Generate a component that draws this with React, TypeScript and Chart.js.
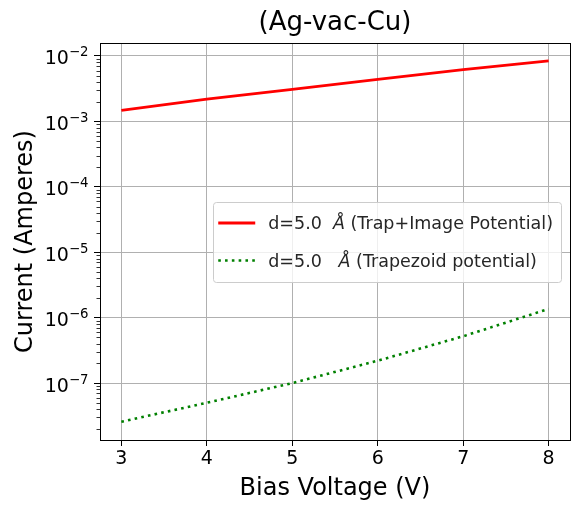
import React, { useEffect, useRef } from 'react';
import { Chart, registerables } from 'chart.js';

Chart.register(...registerables);

const FONT = 'DejaVu Sans';
const TITLE = '(Ag-vac-Cu)';
const X_LABEL = 'Bias Voltage (V)';
const Y_LABEL = 'Current (Amperes)';

const biasVoltage = [3, 4, 5, 6, 7, 8];
const trapImageCurrent = [1.47e-3, 2.2e-3, 3.1e-3, 4.4e-3, 6.2e-3, 8.4e-3];
const trapezoidCurrent = [2.57e-8, 5.0e-8, 1.0e-7, 2.2e-7, 5.2e-7, 1.36e-6];
const seriesLabels = ['d=5.0  Å (Trap+Image Potential)', 'd=5.0   Å (Trapezoid potential)'];

const xTicks = [3, 4, 5, 6, 7, 8];
const yDecadeExponents = [-8, -7, -6, -5, -4, -3, -2];
const X_MIN = 2.75;
const X_MAX = 8.25;
const Y_MIN = 1.35e-8;
const Y_MAX = 1.58e-2;

const isMajor = (v: number) => {
  const l = Math.log10(v);
  return Math.abs(l - Math.round(l)) < 1e-6;
};

const yTickValues: number[] = [];
yDecadeExponents.forEach((e) => {
  for (let m = 1; m <= 9; m++) {
    const v = m * Math.pow(10, e);
    if (v >= Y_MIN && v <= Y_MAX) yTickValues.push(v);
  }
});

const supDigits = (n: number) => (n < 0 ? '\u2212' + Math.abs(n) : String(n));

const TICK_FS = 19;
const EXP_FS = 13.3;

const framePlugin = {
  id: 'mplFrame',
  afterDatasetsDraw(chart: any) {
    const { ctx, chartArea } = chart;
    const y = chart.scales.y;
    ctx.save();
    // minor ticks on log axis
    ctx.strokeStyle = '#000';
    ctx.lineWidth = 0.8;
    y.ticks.forEach((t: any) => {
      if (isMajor(t.value)) return;
      const py = Math.round(y.getPixelForValue(t.value)) + 0.5;
      ctx.beginPath();
      ctx.moveTo(chartArea.left - 3.5, py);
      ctx.lineTo(chartArea.left, py);
      ctx.stroke();
    });
    // spines
    ctx.lineWidth = 1;
    ctx.strokeRect(
      Math.round(chartArea.left) + 0.5,
      Math.round(chartArea.top) + 0.5,
      Math.round(chartArea.right - chartArea.left),
      Math.round(chartArea.bottom - chartArea.top)
    );
    // y tick labels with superscript exponents
    ctx.fillStyle = '#000';
    ctx.textBaseline = 'alphabetic';
    ctx.textAlign = 'left';
    const right = chartArea.left - 6 - 5.5;
    y.ticks.forEach((t: any) => {
      if (!isMajor(t.value)) return;
      const e = Math.round(Math.log10(t.value));
      const py = y.getPixelForValue(t.value);
      const expStr = supDigits(e);
      ctx.font = `${EXP_FS}px "${FONT}"`;
      const expW = ctx.measureText(expStr).width;
      ctx.font = `${TICK_FS}px "${FONT}"`;
      const baseW = ctx.measureText('10').width;
      ctx.fillText('10', right - expW - baseW, py + 8.5);
      ctx.font = `${EXP_FS}px "${FONT}"`;
      ctx.fillText(expStr, right - expW, py + 0.5);
    });
    ctx.restore();
  },
};

const legendPlugin = {
  id: 'mplLegend',
  afterDraw(chart: any) {
    const { ctx, chartArea } = chart;
    const fs = 17.5;
    const handle = 37;
    const padL = 5;
    const gap = 13;
    const padR = 8;
    const rowGap = 37.5;
    const boxH = 80;
    ctx.save();
    const parts = chart.data.datasets.map((ds: any) => {
      const [a, b] = String(ds.label).split('Å');
      ctx.font = `${fs}px "${FONT}"`;
      const wa = ctx.measureText(a).width;
      const wb = ctx.measureText(b).width;
      ctx.font = `italic ${fs}px "${FONT}"`;
      const wc = ctx.measureText('Å').width;
      return { a, b, wa, wb, wc, total: wa + wb + wc, ds };
    });
    const maxW = Math.max(...parts.map((p: any) => p.total));
    const boxW = padL + handle + gap + maxW + padR;
    const right = chartArea.right - 9;
    const left = right - boxW;
    const top = (chartArea.top + chartArea.bottom) / 2 - boxH / 2;
    ctx.beginPath();
    ctx.roundRect(Math.round(left) + 0.5, Math.round(top) + 0.5, Math.round(boxW), boxH, 3);
    ctx.fillStyle = 'rgba(255,255,255,0.8)';
    ctx.fill();
    ctx.strokeStyle = '#cccccc';
    ctx.lineWidth = 1;
    ctx.stroke();
    parts.forEach((p: any, i: number) => {
      const cy = top + 21.5 + i * rowGap;
      ctx.save();
      ctx.strokeStyle = p.ds.borderColor;
      ctx.lineWidth = p.ds.borderWidth;
      ctx.setLineDash(p.ds.borderDash || []);
      ctx.beginPath();
      ctx.moveTo(left + padL, cy);
      ctx.lineTo(left + padL + handle, cy);
      ctx.stroke();
      ctx.restore();
      const tx = left + padL + handle + gap;
      const by = cy + 6.3;
      ctx.fillStyle = '#262626';
      ctx.textBaseline = 'alphabetic';
      ctx.textAlign = 'left';
      ctx.font = `${fs}px "${FONT}"`;
      ctx.fillText(p.a, tx, by);
      ctx.font = `italic ${fs}px "${FONT}"`;
      ctx.fillText('Å', tx + p.wa, by);
      ctx.font = `${fs}px "${FONT}"`;
      ctx.fillText(p.b, tx + p.wa + p.wc, by);
    });
    ctx.restore();
  },
};

export default function App() {
  const canvasRef = useRef<HTMLCanvasElement | null>(null);

  useEffect(() => {
    if (!canvasRef.current) return;
    const chart = new Chart(canvasRef.current, {
      type: 'line',
      data: {
        datasets: [
          {
            label: seriesLabels[0],
            data: biasVoltage.map((x, i) => ({ x, y: trapImageCurrent[i] })),
            borderColor: '#ff0000',
            borderWidth: 2.8,
            pointRadius: 0,
            fill: false,
            tension: 0,
          },
          {
            label: seriesLabels[1],
            data: biasVoltage.map((x, i) => ({ x, y: trapezoidCurrent[i] })),
            borderColor: '#008000',
            borderWidth: 2.6,
            borderDash: [2.6, 4.2],
            pointRadius: 0,
            fill: false,
            tension: 0,
          },
        ],
      },
      options: {
        responsive: false,
        animation: false,
        devicePixelRatio: 1,
        layout: { padding: { left: 0, right: 2, top: 0, bottom: 0 } },
        plugins: {
          legend: { display: false },
          tooltip: { enabled: false },
          title: {
            display: true,
            text: TITLE,
            fullSize: false,
            color: '#000',
            font: { family: FONT, size: 26, weight: 'normal', lineHeight: 1.2 },
            padding: { top: 8, bottom: 3.8 },
          },
        },
        scales: {
          x: {
            type: 'linear',
            min: X_MIN,
            max: X_MAX,
            afterBuildTicks: (s: any) => {
              s.ticks = xTicks.map((v) => ({ value: v }));
            },
            afterFit: (s: any) => {
              s.height = 66;
            },
            grid: { color: '#b0b0b0', tickColor: '#000', tickLength: 6, lineWidth: 1 },
            border: { display: true, color: '#000', width: 1 },
            ticks: {
              color: '#000',
              font: { family: FONT, size: TICK_FS },
              padding: 2,
              maxRotation: 0,
              autoSkip: false,
              callback: (v: any) => String(v),
            },
            title: {
              display: true,
              text: X_LABEL,
              color: '#000',
              font: { family: FONT, size: 24, lineHeight: 1.2 },
              padding: { top: 0, bottom: 2.6 },
            },
          },
          y: {
            type: 'logarithmic',
            min: Y_MIN,
            max: Y_MAX,
            afterBuildTicks: (s: any) => {
              s.ticks = yTickValues.map((v) => ({ value: v, major: isMajor(v) }));
            },
            afterFit: (s: any) => {
              s.width = 100;
            },
            grid: {
              color: (c: any) => (c.tick && isMajor(c.tick.value) ? '#b0b0b0' : 'rgba(0,0,0,0)'),
              tickColor: (c: any) => (c.tick && isMajor(c.tick.value) ? '#000' : 'rgba(0,0,0,0)'),
              tickLength: 6,
              lineWidth: 1,
            },
            border: { display: true, color: '#000', width: 1 },
            ticks: {
              autoSkip: false,
              callback: () => '',
            },
            title: {
              display: true,
              text: Y_LABEL,
              color: '#000',
              font: { family: FONT, size: 24, lineHeight: 1.2 },
              padding: { top: 11, bottom: 0 },
            },
          },
        },
      },
      plugins: [framePlugin, legendPlugin],
    } as any);
    return () => chart.destroy();
  }, []);

  return (
    <div style={{ position: 'absolute', left: 0, top: 0, width: 572, height: 506 }}>
      <canvas ref={canvasRef} width={572} height={506} style={{ display: 'block' }} />
    </div>
  );
}
